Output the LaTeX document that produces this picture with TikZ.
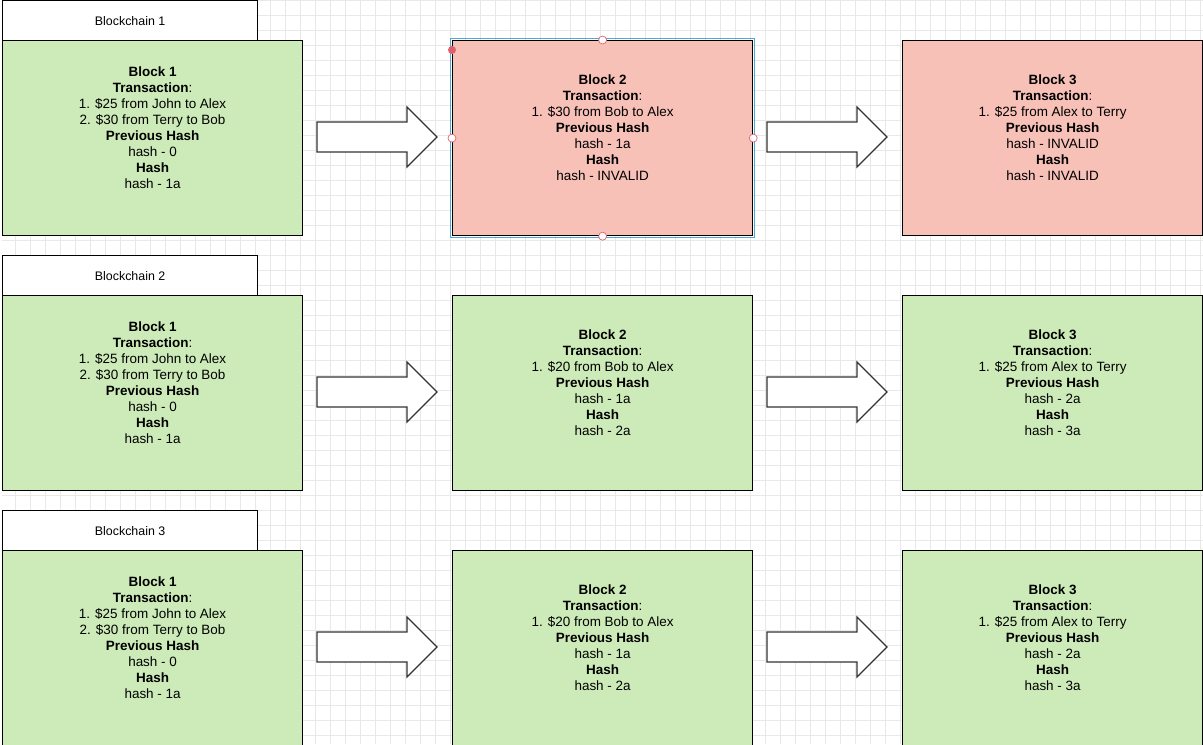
\documentclass[tikz,border=0pt]{standalone}
\usepackage{fontspec}
\setmainfont{Liberation Sans}
\definecolor{okgreen}{HTML}{CDEBB9}
\definecolor{badred}{HTML}{F8C1B8}
\definecolor{gridgray}{HTML}{E8E8E8}
\definecolor{selblue}{HTML}{4FA8D6}
\definecolor{handle}{HTML}{E0606A}
\tikzset{
  block/.style={draw=black,line width=0.9pt,minimum width=225pt,minimum height=146.25pt,
    align=center,font=\fontsize{10.1}{12}\selectfont,anchor=north west,inner sep=0pt},
  good/.style={block,fill=okgreen},
  bad/.style={block,fill=badred},
  tab/.style={draw=black,line width=0.9pt,fill=white,minimum width=191.25pt,minimum height=30pt,
    anchor=north west,font=\fontsize{9.3}{11}\selectfont,inner sep=0pt},
  nextarrow/.style={draw=black!80,line width=0.9pt,fill=white},
  hnd/.style={circle,draw=handle,fill=white,inner sep=0pt,minimum size=6pt,line width=0.5pt}
}
\begin{document}
\begin{tikzpicture}[x=0.75pt,y=-0.75pt]
  \useasboundingbox (0,0) rectangle (1203,744);
  \fill[white] (0,0) rectangle (1203,744);
  \draw[gridgray,line width=0.4pt] (2,0) grid[step=11.25pt] (1203,744);
  % tabs
  \node[tab] (t1) at (2,0) {Blockchain 1};
  \node[tab] (t2) at (2,255) {Blockchain 2};
  \node[tab] (t3) at (2,510) {Blockchain 3};
  % row 1
  \node[good] (b11) at (2,40) {\textbf{Block 1}\\\textbf{Transaction}:\\1. \$25 from John to Alex\\2. \$30 from Terry to Bob\\\textbf{Previous Hash}\\hash - 0\\\textbf{Hash}\\hash - 1a\\[4pt]\mbox{}};
  \node[bad] (b12) at (452,40) {\textbf{Block 2}\\\textbf{Transaction}:\\1. \$30 from Bob to Alex\\\textbf{Previous Hash}\\hash - 1a\\\textbf{Hash}\\hash - INVALID\\[4pt]\mbox{}};
  \draw[selblue,line width=0.8pt] ([shift={(-1.2pt,1.2pt)}]b12.north west) rectangle ([shift={(1.2pt,-1.2pt)}]b12.south east);
  \node[bad] (b13) at (902,40) {\textbf{Block 3}\\\textbf{Transaction}:\\1. \$25 from Alex to Terry\\\textbf{Previous Hash}\\hash - INVALID\\\textbf{Hash}\\hash - INVALID\\[4pt]\mbox{}};
  % row 2
  \node[good] (b21) at (2,295) {\textbf{Block 1}\\\textbf{Transaction}:\\1. \$25 from John to Alex\\2. \$30 from Terry to Bob\\\textbf{Previous Hash}\\hash - 0\\\textbf{Hash}\\hash - 1a\\[4pt]\mbox{}};
  \node[good] (b22) at (452,295) {\textbf{Block 2}\\\textbf{Transaction}:\\1. \$20 from Bob to Alex\\\textbf{Previous Hash}\\hash - 1a\\\textbf{Hash}\\hash - 2a\\[4pt]\mbox{}};
  \node[good] (b23) at (902,295) {\textbf{Block 3}\\\textbf{Transaction}:\\1. \$25 from Alex to Terry\\\textbf{Previous Hash}\\hash - 2a\\\textbf{Hash}\\hash - 3a\\[4pt]\mbox{}};
  % row 3
  \node[good] (b31) at (2,550) {\textbf{Block 1}\\\textbf{Transaction}:\\1. \$25 from John to Alex\\2. \$30 from Terry to Bob\\\textbf{Previous Hash}\\hash - 0\\\textbf{Hash}\\hash - 1a\\[4pt]\mbox{}};
  \node[good] (b32) at (452,550) {\textbf{Block 2}\\\textbf{Transaction}:\\1. \$20 from Bob to Alex\\\textbf{Previous Hash}\\hash - 1a\\\textbf{Hash}\\hash - 2a\\[4pt]\mbox{}};
  \node[good] (b33) at (902,550) {\textbf{Block 3}\\\textbf{Transaction}:\\1. \$25 from Alex to Terry\\\textbf{Previous Hash}\\hash - 2a\\\textbf{Hash}\\hash - 3a\\[4pt]\mbox{}};
  % arrows between blocks
  \foreach \y in {137,392,647}{
    \foreach \x in {317,767}{
      \draw[nextarrow] (\x,\y-15) -- ++(90,0) -- ++(0,-15) -- ++(30,30) -- ++(-30,30)
        -- ++(0,-15) -- ++(-90,0) -- cycle;
    }
  }
  % selection handles
  \node[hnd] (h1) at (b12.north) {};
  \node[hnd] (h2) at (b12.south) {};
  \node[hnd] (h3) at (b12.west) {};
  \node[hnd] (h4) at (b12.east) {};
  \node[circle,fill=handle,inner sep=0pt,minimum size=6pt] (h5) at (452,50) {};
\end{tikzpicture}
\end{document}
